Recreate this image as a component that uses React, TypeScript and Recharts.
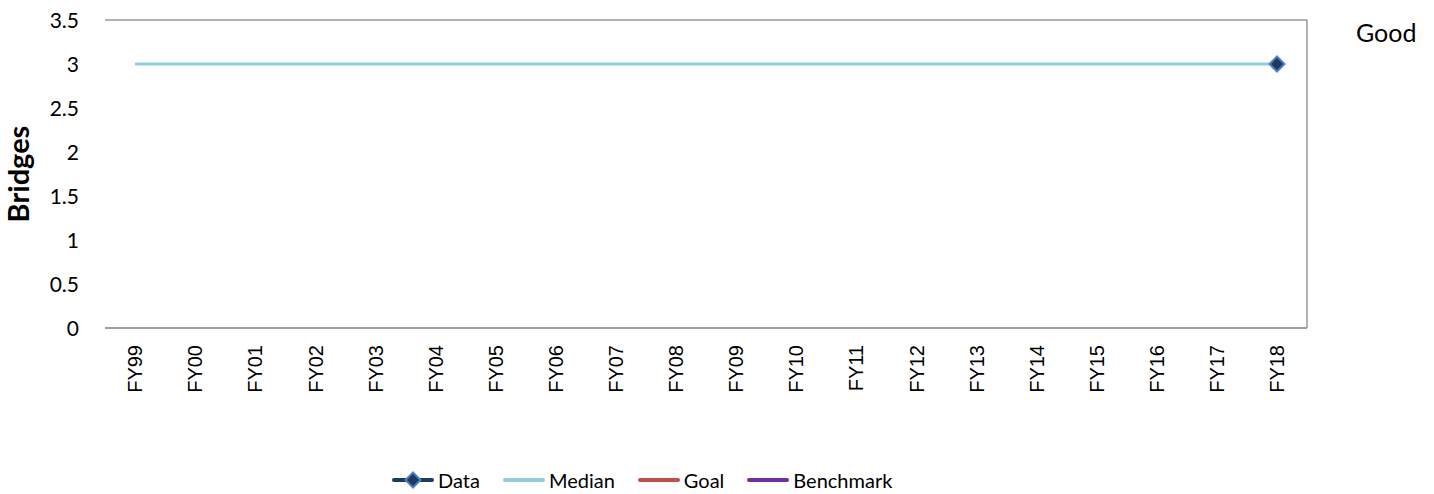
import React from "react";
import { ComposedChart, Line, XAxis, YAxis, CartesianGrid, Legend } from "recharts";

const categories = ["FY99","FY00","FY01","FY02","FY03","FY04","FY05","FY06","FY07","FY08","FY09","FY10","FY11","FY12","FY13","FY14","FY15","FY16","FY17","FY18"];
const dataValues: (number | null)[] = [null,null,null,null,null,null,null,null,null,null,null,null,null,null,null,null,null,null,null,3];
const medianValues: (number | null)[] = [3,3,3,3,3,3,3,3,3,3,3,3,3,3,3,3,3,3,3,3];
const goalValues: (number | null)[] = categories.map(() => null);
const benchmarkValues: (number | null)[] = categories.map(() => null);
const yTicks = [0, 0.5, 1, 1.5, 2, 2.5, 3, 3.5];

const rows = categories.map((c, i) => ({
  cat: c,
  Data: dataValues[i],
  Median: medianValues[i],
  Goal: goalValues[i],
  Benchmark: benchmarkValues[i],
}));

const FONT = "Lato, 'Noto Sans', sans-serif";

const XTick = (props: any) => {
  const { x, payload } = props;
  return (
    <text x={x} y={345} transform={`rotate(-90 ${x} 345)`} textAnchor="end" dy="0.36em"
      fontFamily="'Liberation Sans', Arial, sans-serif" fontSize={20} fill="#000">
      {payload.value}
    </text>
  );
};

const YTick = (props: any) => {
  const { y, payload } = props;
  return (
    <text x={79} y={y} textAnchor="end" dy="0.36em" fontFamily={FONT} fontSize={21} fill="#000">
      {payload.value}
    </text>
  );
};

const Diamond = (props: any) => {
  const { cx, cy, value } = props;
  if (value == null || cx == null || cy == null) return null;
  const r = 7.5;
  return (
    <path d={`M${cx},${cy - r}L${cx + r},${cy}L${cx},${cy + r}L${cx - r},${cy}Z`} fill="#1F3864" stroke="#4F81BD" strokeWidth={2} />
  );
};

const legendItems = [
  { name: "Data", color: "#1F3864", marker: true },
  { name: "Median", color: "#92CDDC", marker: false },
  { name: "Goal", color: "#C0504D", marker: false },
  { name: "Benchmark", color: "#7030A0", marker: false },
];

const LegendContent = () => (
  <div style={{ display: "flex", alignItems: "center", marginLeft: 392, height: 30, fontFamily: FONT, fontSize: 20, color: "#000" }}>
    {legendItems.map((it) => (
      <div key={it.name} style={{ display: "flex", alignItems: "center", marginRight: 23 }}>
        <svg width={42} height={18} style={{ marginRight: 4 }}>
          <line x1={2} y1={9} x2={40} y2={9} stroke={it.color} strokeWidth={4} strokeLinecap="round" />
          {it.marker && <path d="M21,1.5L28.5,9L21,16.5L13.5,9Z" fill="#1F3864" stroke="#4F81BD" strokeWidth={2} />}
        </svg>
        <span>{it.name}</span>
      </div>
    ))}
  </div>
);

export default function App() {
  return (
    <div style={{ position: "absolute", left: 0, top: 0, width: 1434, height: 494, background: "#fff" }}>
      <ComposedChart width={1434} height={494} data={rows} margin={{ top: 20, right: 117, bottom: 0, left: 0 }}>
        <CartesianGrid vertical={false} stroke="#999" strokeWidth={1.5} />
        <XAxis dataKey="cat" tick={<XTick />} tickLine={false} axisLine={{ stroke: "#999", strokeWidth: 1.5 }} height={136} interval={0} padding={{ left: 30, right: 30 }} />
        <YAxis yAxisId="l" domain={[0, 3.5]} ticks={yTicks} tick={<YTick />} tickLine={false} axisLine={false} width={105}
          label={{
            content: () => (
              <text x={29} y={174} transform="rotate(-90 29 174)" textAnchor="middle" fontFamily={FONT} fontWeight="bold" fontSize={29} fill="#000">Bridges</text>
            ),
          }} />
        <YAxis yAxisId="r" orientation="right" domain={[0, 3.5]} ticks={yTicks} tick={false} tickLine={false} axisLine={{ stroke: "#999", strokeWidth: 1.5 }} width={10} />
        <Line yAxisId="l" dataKey="Median" stroke="#92CDDC" strokeWidth={3} dot={false} isAnimationActive={false} />
        <Line yAxisId="l" dataKey="Goal" stroke="#C0504D" strokeWidth={3} dot={false} isAnimationActive={false} />
        <Line yAxisId="l" dataKey="Benchmark" stroke="#7030A0" strokeWidth={3} dot={false} isAnimationActive={false} />
        <Line yAxisId="l" dataKey="Data" stroke="#1F3864" strokeWidth={3} dot={<Diamond />} isAnimationActive={false} />
        <Legend verticalAlign="bottom" content={<LegendContent />} wrapperStyle={{ left: 0, width: 1434, bottom: 0, height: 30, top: 465 }} />
      </ComposedChart>
      <div style={{ position: "absolute", left: 1356, top: 17, fontFamily: FONT, fontSize: 25, color: "#000", lineHeight: "30px" }}>Good</div>
    </div>
  );
}
